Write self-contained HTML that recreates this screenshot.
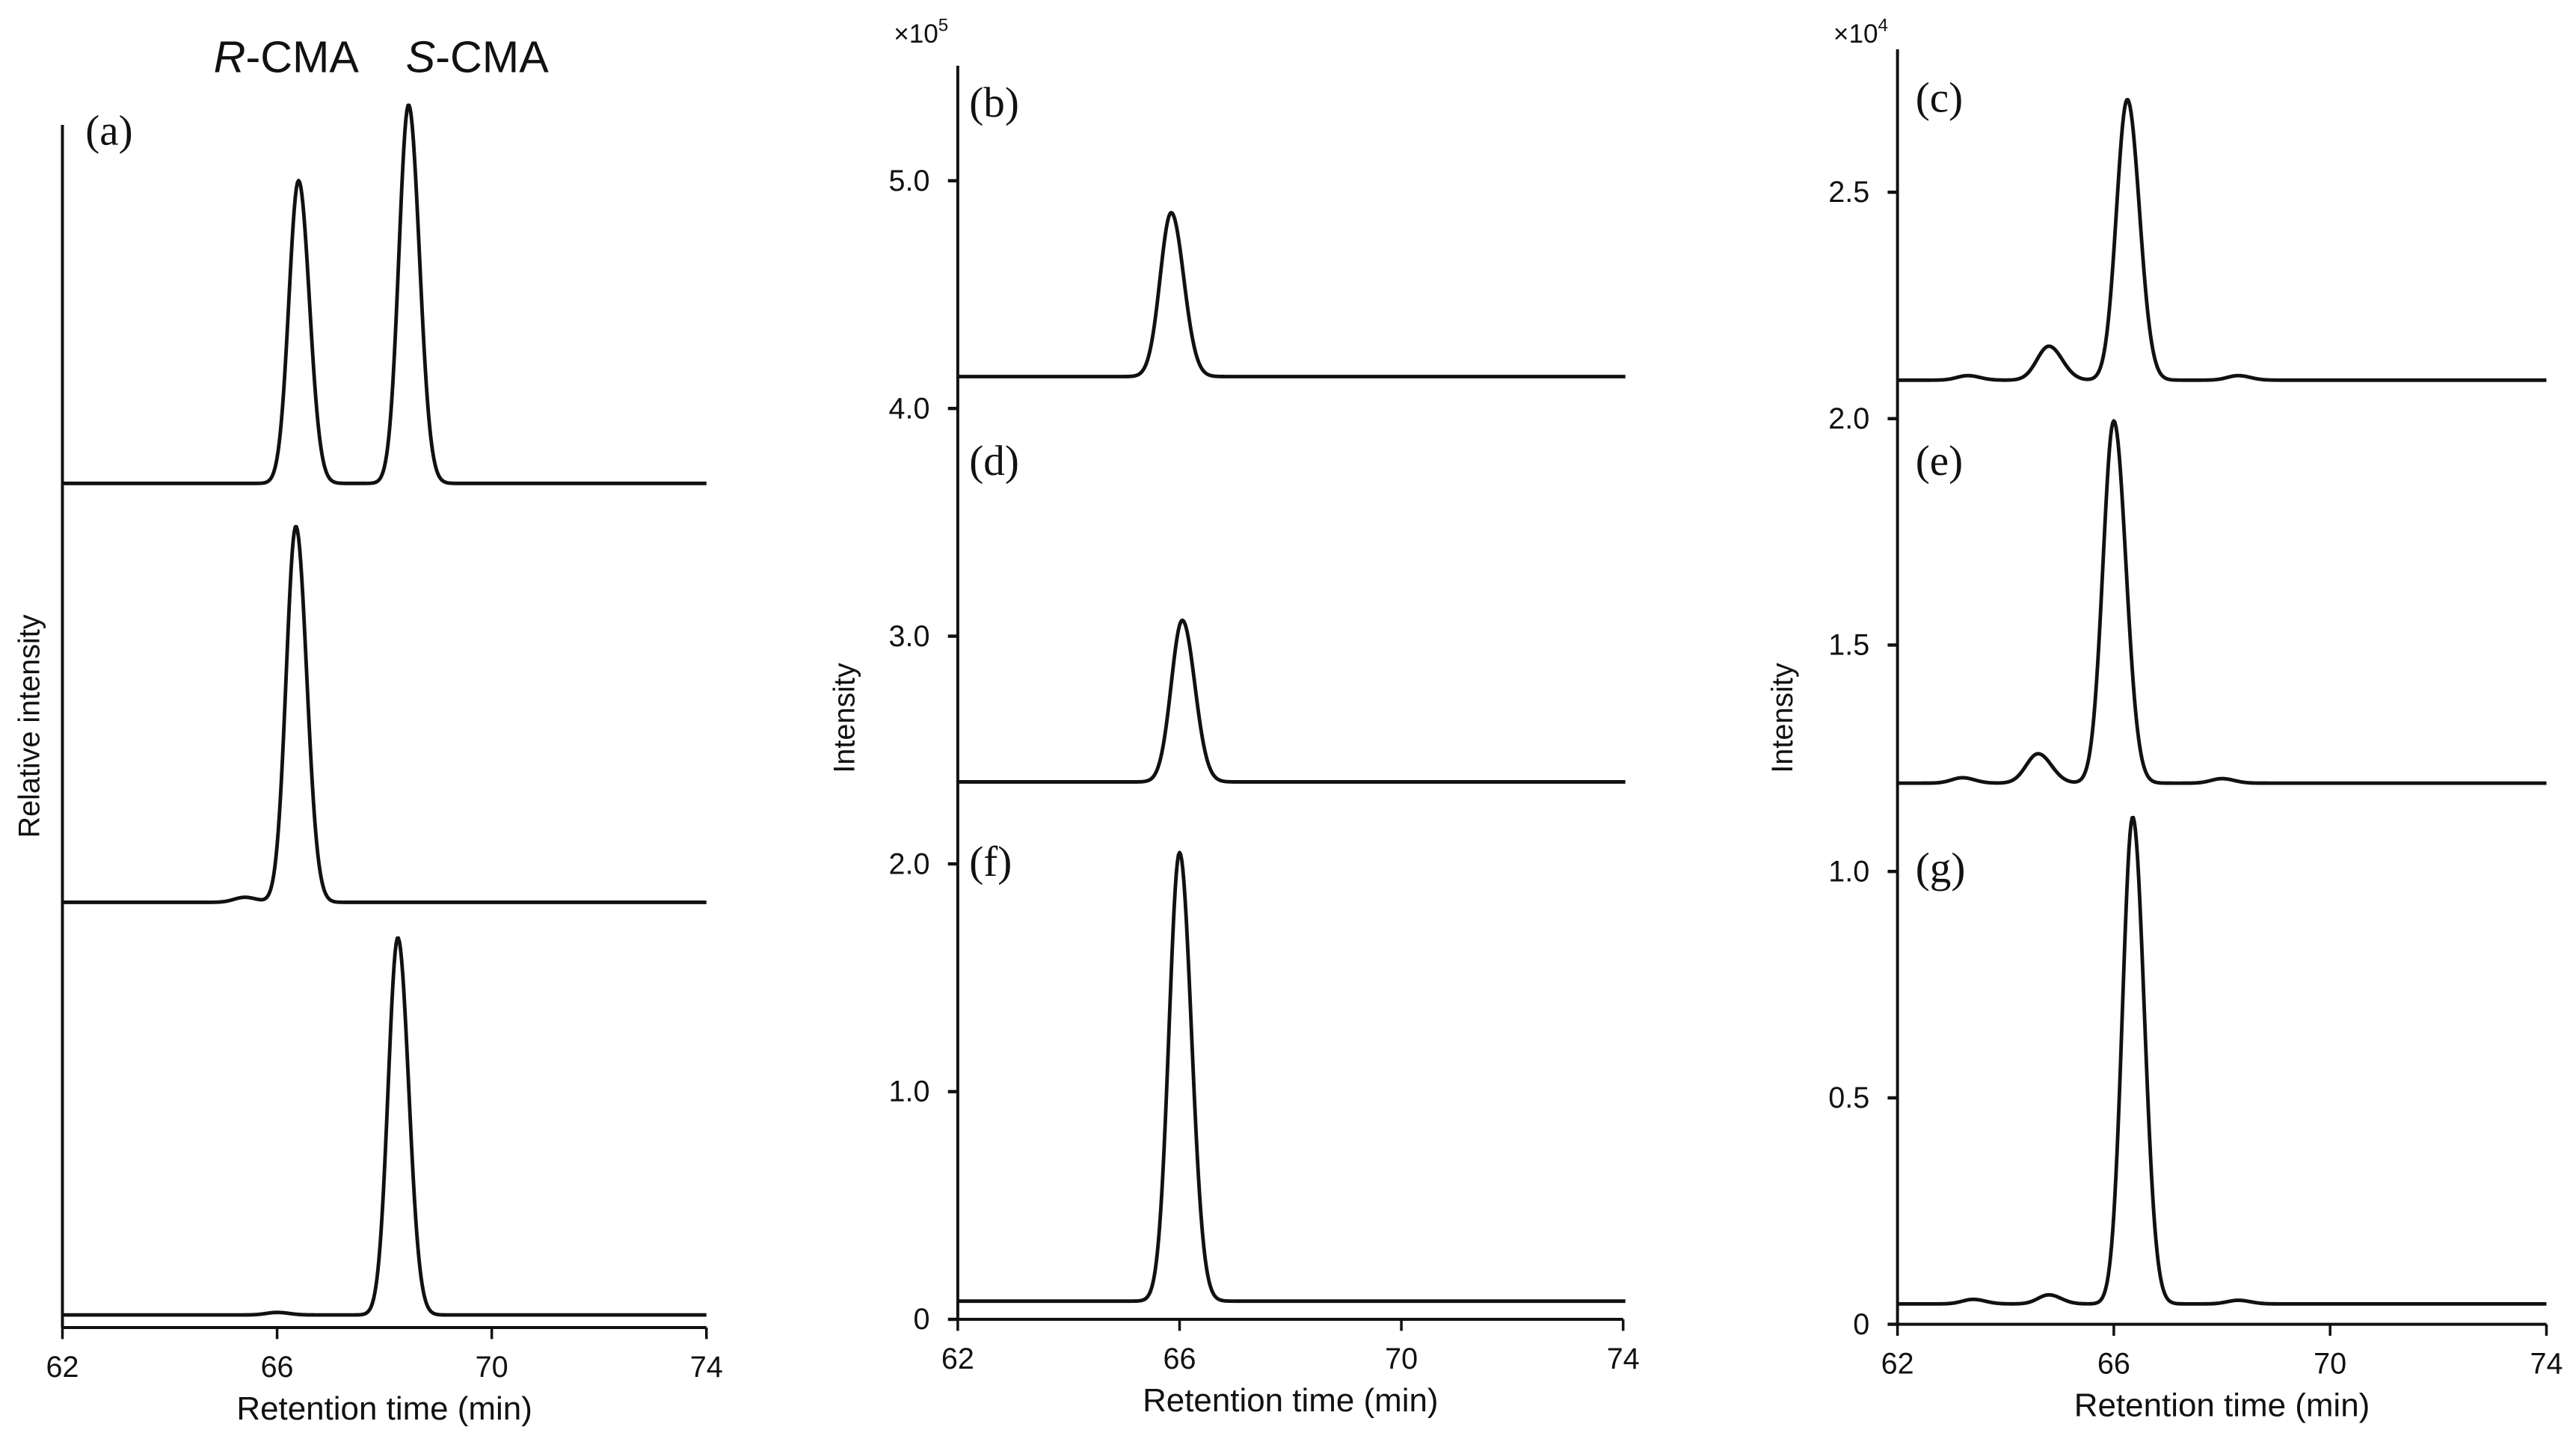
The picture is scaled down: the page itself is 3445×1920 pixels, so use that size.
<!DOCTYPE html>
<html><head><meta charset="utf-8">
<style>
html,body{margin:0;padding:0;background:#fff;}
svg{display:block;}
text{font-family:"Liberation Sans",Arial,sans-serif;fill:#111;}
.serif{font-family:"Liberation Serif",serif;}
</style></head>
<body>
<svg id="fig" width="3445" height="1920" viewBox="0 0 1568 874" preserveAspectRatio="none" xmlns="http://www.w3.org/2000/svg"></svg>
<script>
// ---- data ----
// Panel (a): relative intensity (0..1), peaks: [center min, height above baseline, sigma]
const aBaselines = [0.669, 0.337, 0.010];
const aPeaks = [
  [[66.4, 0.240, 0.18], [68.45, 0.300, 0.18]],
  [[66.35, 0.298, 0.18], [65.4, 0.004, 0.2]],
  [[68.25, 0.299, 0.18], [66.0, 0.002, 0.2]]
];
// Panel (b,d,f): intensity x10^5
const bBaselines = [4.14, 2.36, 0.08];
const bPeaks = [
  [[65.85, 0.72, 0.2]],
  [[66.05, 0.71, 0.2]],
  [[66.0, 1.97, 0.19]]
];
// Panel (c,e,g): intensity x10^4
const cBaselines = [2.085, 1.195, 0.045];
const cPeaks = [
  [[66.25, 0.62, 0.2], [64.8, 0.075, 0.22], [63.3, 0.01, 0.2], [68.3, 0.01, 0.2]],
  [[66.0, 0.80, 0.2], [64.6, 0.065, 0.22], [63.2, 0.012, 0.2], [68.0, 0.01, 0.2]],
  [[66.35, 1.075, 0.19], [64.8, 0.02, 0.2], [63.4, 0.01, 0.2], [68.3, 0.008, 0.2]]
];
const xTicks = [62, 66, 70, 74];
const bTicks = [0, 1.0, 2.0, 3.0, 4.0, 5.0];
const cTicks = [0, 0.5, 1.0, 1.5, 2.0, 2.5];
const aLabels = ["(a)"];
const bLabels = ["(b)", "(d)", "(f)"];
const cLabels = ["(c)", "(e)", "(g)"];

const NS = "http://www.w3.org/2000/svg";
const svg = document.getElementById("fig");
function mk(tag, attrs, parent) {
  const e = document.createElementNS(NS, tag);
  for (const k in attrs) e.setAttribute(k, attrs[k]);
  (parent || svg).appendChild(e);
  return e;
}
function txt(s, attrs, parent) { const t = mk("text", attrs, parent); t.textContent = s; return t; }

function panel(cfg) {
  const g = mk("g", {});
  
  
  const sx = v => cfg.x0 + (v - 62) / 12 * (cfg.x1 - cfg.x0);
  const sy = v => cfg.yb - v * cfg.k;
  const ya = mk("line", {x1: cfg.x0, y1: cfg.ytop, x2: cfg.x0, y2: cfg.yb, stroke: "#111", "stroke-width": 1.8}, g);
  
  
  const xa = mk("line", {x1: cfg.x0, y1: cfg.yb, x2: cfg.x1, y2: cfg.yb, stroke: "#111", "stroke-width": 1.8}, g);
  
  
  xTicks.forEach(t => {
    const l = mk("line", {x1: sx(t), y1: cfg.yb, x2: sx(t), y2: cfg.yb + 7, stroke: "#111", "stroke-width": 1.6}, g);
    
    
    const tl = txt(String(t), {x: sx(t), y: cfg.yb + 30, "font-size": 18, "text-anchor": "middle"}, g);
    
    
  });
  if (cfg.yTicks) {
    cfg.yTicks.forEach(t => {
      const l = mk("line", {x1: cfg.x0 - 6, y1: sy(t), x2: cfg.x0, y2: sy(t), stroke: "#111", "stroke-width": 2}, g);
      
      
      const tl = txt(t === 0 ? "0" : t.toFixed(1), {x: cfg.x0 - 17, y: sy(t) + 6, "font-size": 18, "text-anchor": "end"}, g);
      
      
    });
    const m = txt("×10", {x: cfg.x0 - 39, y: 26, "font-size": 16}, g);
    const sp = mk("tspan", {dy: -7, "font-size": 11}, m); sp.textContent = cfg.exp;
    
    
  }
  const xt = txt("Retention time (min)", {x: (cfg.x0 + cfg.x1) / 2, y: cfg.yb + 56, "font-size": 20, "text-anchor": "middle"}, g);
  
  
  const yt = txt(cfg.ytitle, {x: 0, y: 0, "font-size": 18, "text-anchor": "middle", transform: `translate(${cfg.ytx},${cfg.yty}) rotate(-90)`}, g);
  
  
  cfg.baselines.forEach((b, i) => {
    let d = "";
    for (let t = 62; t <= cfg.tEnd + 1e-9; t += 0.02) {
      let v = b;
      cfg.peaks[i].forEach(p => {
        const z = (t - p[0]) / (t > p[0] ? p[2] * 1.12 : p[2]);
        v += p[1] * Math.exp(-0.5 * z * z);
      });
      d += (d ? "L" : "M") + sx(t).toFixed(2) + "," + sy(v).toFixed(2);
    }
    const path = mk("path", {d: d, fill: "none", stroke: "#111", "stroke-width": 2.2, "stroke-linejoin": "round"}, g);
    
    
  });
  cfg.labelPos.forEach((pos, i) => {
    const l = txt(cfg.labels[i], {x: pos[0], y: pos[1], "font-size": 26, class: "serif"}, g);
    
    
  });
}

panel({name: "panel-a", x0: 38, x1: 430, yb: 808, ytop: 76, k: 768, tEnd: 74,
  baselines: aBaselines, peaks: aPeaks, ytitle: "Relative intensity", ytx: 24, yty: 442,
  labels: aLabels, labelPos: [[52, 88]]});
panel({name: "panel-b-d-f", x0: 583, x1: 988, yb: 803, ytop: 40, k: 138.6, tEnd: 74.05,
  baselines: bBaselines, peaks: bPeaks, ytitle: "Intensity", ytx: 520, yty: 437,
  yTicks: bTicks, exp: "5",
  labels: bLabels, labelPos: [[590, 71], [590, 289], [590, 533]]});
panel({name: "panel-c-e-g", x0: 1155, x1: 1550, yb: 806, ytop: 30, k: 275.6, tEnd: 74,
  baselines: cBaselines, peaks: cPeaks, ytitle: "Intensity", ytx: 1091, yty: 437,
  yTicks: cTicks, exp: "4",
  labels: cLabels, labelPos: [[1166, 68], [1166, 289], [1166, 537]]});

const r = txt("", {x: 130, y: 44, "font-size": 27});


let s1 = mk("tspan", {"font-style": "italic"}, r); s1.textContent = "R";
let s2 = mk("tspan", {}, r); s2.textContent = "-CMA";
const s = txt("", {x: 247, y: 44, "font-size": 27});


s1 = mk("tspan", {"font-style": "italic"}, s); s1.textContent = "S";
s2 = mk("tspan", {}, s); s2.textContent = "-CMA";
</script>
</body></html>
